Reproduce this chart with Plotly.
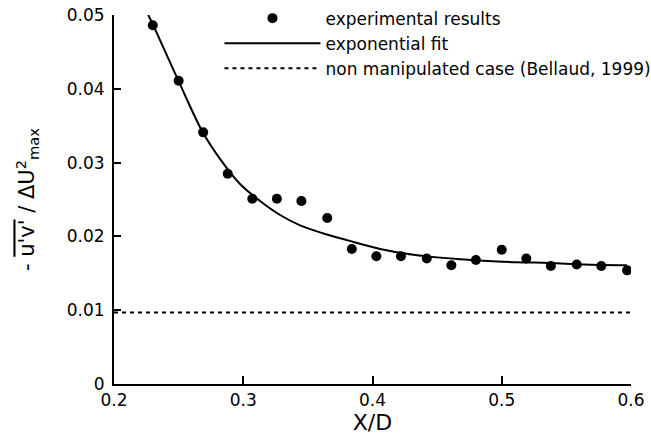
import plotly.graph_objects as go

# Measured Reynolds shear stress behind the cylinder
x_exp = [0.230, 0.250, 0.269, 0.288, 0.307, 0.326, 0.345, 0.365, 0.384, 0.403,
         0.422, 0.442, 0.461, 0.480, 0.500, 0.519, 0.538, 0.558, 0.577, 0.597]
y_exp = [0.0486, 0.0411, 0.0341, 0.0285, 0.0251, 0.0251, 0.0248, 0.0225, 0.0183, 0.0173,
         0.0173, 0.0170, 0.0161, 0.0168, 0.0182, 0.0170, 0.0160, 0.0162, 0.0160, 0.0154]

# Exponential fit curve
x_fit = [0.2265, 0.2304, 0.2498, 0.2687, 0.2820, 0.2975, 0.3130, 0.3285, 0.3440, 0.3620,
         0.3801, 0.4059, 0.4317, 0.4678, 0.4858, 0.5117, 0.5375, 0.5632, 0.5968]
y_fit = [0.0500, 0.0486, 0.0411, 0.0341, 0.0305, 0.0271, 0.0248, 0.0229, 0.0215, 0.0204,
         0.0195, 0.0183, 0.0175, 0.0169, 0.0167, 0.0165, 0.0164, 0.0162, 0.0161]

# Non manipulated reference level (Bellaud, 1999)
x_ref = [0.2, 0.6]
y_ref = [0.0097, 0.0097]

x_ticks = [0.2, 0.3, 0.4, 0.5, 0.6]
y_ticks = [0, 0.01, 0.02, 0.03, 0.04, 0.05]
y_tick_text = ["0", "0.01", "0.02", "0.03", "0.04", "0.05"]

FONT = "DejaVu Sans"

fig = go.Figure()
fig.add_trace(go.Scatter(
    x=x_exp, y=y_exp, mode="markers", name="experimental results",
    marker=dict(symbol="circle", size=10, color="black"),
))
fig.add_trace(go.Scatter(
    x=x_fit, y=y_fit, mode="lines", name="exponential fit",
    line=dict(color="black", width=2, shape="spline", smoothing=1.0),
))
fig.add_trace(go.Scatter(
    x=x_ref, y=y_ref, mode="lines", name="non manipulated case (Bellaud, 1999)",
    line=dict(color="black", width=2, dash="4px,4px"),
))

fig.update_layout(
    width=651, height=435,
    margin=dict(l=114, r=20, t=15, b=51, autoexpand=False),
    paper_bgcolor="white", plot_bgcolor="white",
    font=dict(family=FONT, size=17, color="black"),
    showlegend=True,
    legend=dict(
        x=0.204, y=1.039, xanchor="left", yanchor="top",
        bgcolor="rgba(0,0,0,0)", borderwidth=0,
        font=dict(family=FONT, size=17, color="black"),
        itemwidth=96, tracegroupgap=0,
    ),
    xaxis=dict(
        range=[0.2, 0.6], tickvals=x_ticks,
        showgrid=False, zeroline=False,
        showline=True, linecolor="black", linewidth=2,
        ticks="inside", ticklen=8, tickwidth=2, tickcolor="black",
        tickfont=dict(family=FONT, size=17),
        title=dict(text="X/D", font=dict(family=FONT, size=22), standoff=8),
    ),
    yaxis=dict(
        range=[0, 0.05], tickvals=y_ticks, ticktext=y_tick_text,
        showgrid=False, zeroline=False,
        showline=True, linecolor="black", linewidth=2,
        ticks="inside", ticklen=7, tickwidth=2, tickcolor="black",
        tickfont=dict(family=FONT, size=17),
        ticklabelstandoff=4,
        title=dict(
            text="- <span style=\"text-decoration:overline\">u'v'</span> / ΔU<sup>2</sup><sub>max</sub>",
            font=dict(family=FONT, size=21), standoff=26,
        ),
    ),
)

fig.write_html("out.html")
